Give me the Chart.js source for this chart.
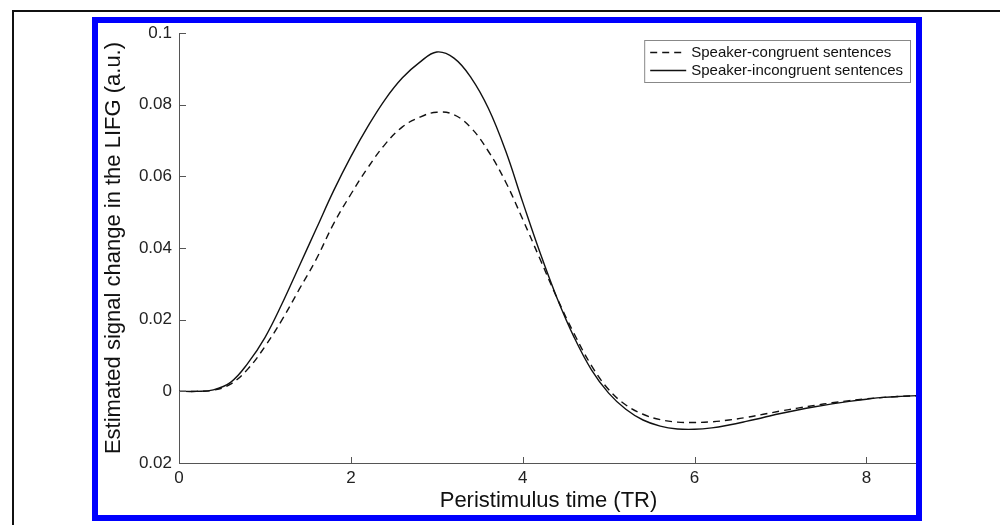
<!DOCTYPE html>
<html>
<head>
<meta charset="utf-8">
<script src="https://cdn.jsdelivr.net/npm/chart.js@4.4.1/dist/chart.umd.min.js"></script>
<style>
  html, body { margin: 0; padding: 0; background: #fff; }
  #page { position: relative; width: 1000px; height: 525px; overflow: hidden; }
  #chartWrap { position: absolute; left: 0; top: 0; width: 1000px; height: 525px; }
  #outerFrame {
    position: absolute; left: 12px; top: 10px; width: 1000px; height: 600px;
    border-left: 2px solid #111; border-top: 2px solid #111;
  }
  #blueBox {
    position: absolute; left: 92px; top: 17px; width: 818px; height: 492px;
    border: 6px solid #0000fe;
  }
</style>
</head>
<body>
<div id="page">
  <div id="chartWrap"><canvas id="hrfChart" width="1000" height="525"></canvas></div>
  <div id="outerFrame"></div>
  <div id="blueBox"></div>
</div>
<script>
// Data
const timeTR = [0, 0.2, 0.4, 0.6, 0.8, 1.0, 1.2, 1.4, 1.6, 1.8, 2.0, 2.2, 2.4, 2.6, 2.8, 3.0, 3.2, 3.4, 3.6, 3.8,
  4.0, 4.2, 4.4, 4.6, 4.8, 5.0, 5.2, 5.4, 5.6, 5.8, 6.0, 6.2, 6.4, 6.6, 6.8, 7.0, 7.2, 7.4, 7.6, 7.8, 8.0, 8.2, 8.4, 8.6];

const congruent = [0, 0, 0.0003, 0.0020, 0.0062, 0.0125, 0.0200, 0.0285, 0.0370, 0.0468, 0.0550, 0.0625, 0.0690, 0.0738, 0.0765, 0.0779, 0.0772, 0.0735, 0.0670, 0.0585,
  0.0480, 0.0370, 0.0260, 0.0160, 0.0072, 0.0005, -0.0038, -0.0064, -0.0079, -0.0086, -0.0087, -0.0085, -0.0080, -0.0073, -0.0064, -0.0055, -0.0047, -0.0039, -0.0032, -0.0026, -0.0021, -0.0017, -0.0014, -0.0012];

const incongruent = [0, 0, 0.0004, 0.0025, 0.0078, 0.0150, 0.0245, 0.0350, 0.0455, 0.0560, 0.0655, 0.0740, 0.0815, 0.0875, 0.0918, 0.0947, 0.0930, 0.0875, 0.0790, 0.0672,
  0.0528, 0.0388, 0.0260, 0.0150, 0.0060, -0.0005, -0.0050, -0.0080, -0.0097, -0.0105, -0.0106, -0.0102, -0.0094, -0.0084, -0.0073, -0.0062, -0.0052, -0.0043, -0.0035, -0.0028, -0.0022, -0.0017, -0.0014, -0.0012];

const seriesNames = ['Speaker-congruent sentences', 'Speaker-incongruent sentences'];

const xTickValues = [0, 2, 4, 6, 8];
const xTickLabels = ['0', '2', '4', '6', '8'];
const yTickValues = [-0.02, 0, 0.02, 0.04, 0.06, 0.08, 0.1];
const yTickLabels = ['0.02', '0', '0.02', '0.04', '0.06', '0.08', '0.1'];

const FONT = '"Liberation Sans", Arial, sans-serif';
const LINE_COLOR = '#111';
const AXIS_COLOR = '#555';

function toPoints(values) {
    return timeTR.map((t, i) => ({ x: t, y: values[i] }));
}

// MATLAB-style ticks pointing into the plot
const inwardTicks = {
    id: 'inwardTicks',
    afterDraw(chart) {
        const c = chart.ctx;
        const area = chart.chartArea;
        const xs = chart.scales.x;
        const ys = chart.scales.y;
        c.save();
        c.strokeStyle = AXIS_COLOR;
        c.lineWidth = 1;
        c.beginPath();
        xTickValues.forEach(v => {
            const px = Math.round(xs.getPixelForValue(v)) + 0.5;
            c.moveTo(px, area.bottom);
            c.lineTo(px, area.bottom - 6);
        });
        yTickValues.forEach(v => {
            const py = Math.round(ys.getPixelForValue(v)) + 0.5;
            c.moveTo(area.left, py);
            c.lineTo(area.left + 7, py);
        });
        c.stroke();
        c.restore();
    }
};

// Boxed legend in the upper right corner
const boxLegend = {
    id: 'boxLegend',
    afterDraw(chart) {
        const c = chart.ctx;
        c.save();
        c.font = '15px ' + FONT;
        const widths = seriesNames.map(s => c.measureText(s).width);
        const textRight = 903;
        const textLeft = textRight - Math.max(...widths);
        const lineEnd = textLeft - 5;
        const lineStart = lineEnd - 36;
        const boxLeft = lineStart - 6;
        const boxTop = 40, boxBottom = 82, boxRight = 910;

        c.fillStyle = '#fff';
        c.fillRect(boxLeft, boxTop, boxRight - boxLeft, boxBottom - boxTop);
        c.strokeStyle = '#888';
        c.lineWidth = 1;
        c.strokeRect(boxLeft + 0.5, boxTop + 0.5, boxRight - boxLeft, boxBottom - boxTop);

        const rows = [52, 70];
        chart.data.datasets.forEach((ds, i) => {
            const y = rows[i];
            c.strokeStyle = ds.borderColor;
            c.lineWidth = ds.borderWidth;
            c.setLineDash(ds.borderDash || []);
            c.beginPath();
            c.moveTo(lineStart, y + 0.5);
            c.lineTo(lineEnd, y + 0.5);
            c.stroke();
            c.setLineDash([]);
            c.fillStyle = '#111';
            c.textBaseline = 'middle';
            c.textAlign = 'left';
            c.fillText(seriesNames[i], textLeft, y + 1);
        });
        c.restore();
    }
};

const ctx = document.getElementById('hrfChart').getContext('2d');
const hrfChart = new Chart(ctx, {
    type: 'line',
    data: {
        datasets: [
            {
                label: seriesNames[0],
                data: toPoints(congruent),
                borderColor: LINE_COLOR,
                borderWidth: 1.4,
                borderDash: [7, 5],
                pointRadius: 0,
                fill: false,
                tension: 0.4
            },
            {
                label: seriesNames[1],
                data: toPoints(incongruent),
                borderColor: LINE_COLOR,
                borderWidth: 1.4,
                pointRadius: 0,
                fill: false,
                tension: 0.4
            }
        ]
    },
    options: {
        responsive: false,
        animation: false,
        layout: {
            padding: { left: 96, right: 82, top: 33, bottom: 10 }
        },
        plugins: {
            legend: { display: false },
            tooltip: { enabled: false }
        },
        scales: {
            x: {
                type: 'linear',
                min: 0,
                max: 8.6,
                afterBuildTicks: (scale) => {
                    scale.ticks = xTickValues.map(v => ({ value: v }));
                },
                afterFit: (scale) => { scale.height = 52; },
                ticks: {
                    color: '#222',
                    font: { family: FONT, size: 17 },
                    padding: 5,
                    maxRotation: 0,
                    callback: (value, index) => xTickLabels[index]
                },
                grid: { display: false, drawTicks: false },
                border: { display: true, color: AXIS_COLOR, width: 1 },
                title: {
                    display: true,
                    text: 'Peristimulus time (TR)',
                    color: '#111',
                    font: { family: FONT, size: 22 },
                    padding: { top: 0, bottom: 1 }
                }
            },
            y: {
                type: 'linear',
                min: -0.02,
                max: 0.1,
                afterBuildTicks: (scale) => {
                    scale.ticks = yTickValues.map(v => ({ value: v }));
                },
                afterFit: (scale) => { scale.width = 83; },
                ticks: {
                    color: '#222',
                    font: { family: FONT, size: 17 },
                    padding: 7,
                    callback: (value, index) => yTickLabels[index]
                },
                grid: { display: false, drawTicks: false },
                border: { display: true, color: AXIS_COLOR, width: 1 },
                title: {
                    display: true,
                    text: 'Estimated signal change in the LIFG (a.u.)',
                    color: '#111',
                    font: { family: FONT, size: 22 },
                    padding: { top: 5, bottom: 0 }
                }
            }
        }
    },
    plugins: [inwardTicks, boxLegend]
});
</script>
</body>
</html>
